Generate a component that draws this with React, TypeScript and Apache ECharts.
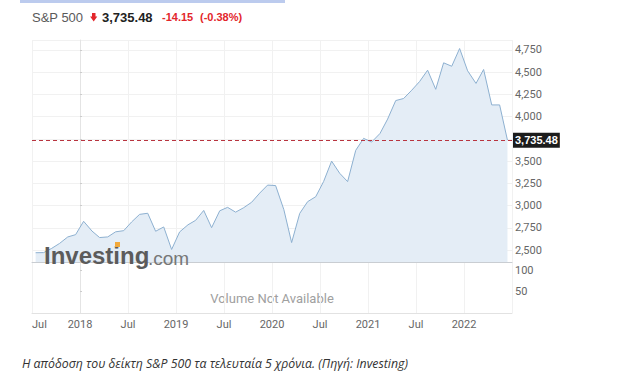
import React, { useEffect, useRef } from "react";
import * as echarts from "echarts";

// Monthly closes of the S&P 500 (last point: 14 June 2022)
const dates = [
  "2017-07-15", "2017-08-15", "2017-09-15", "2017-10-15", "2017-11-15", "2017-12-15",
  "2018-01-15", "2018-02-15", "2018-03-15", "2018-04-15", "2018-05-15", "2018-06-15",
  "2018-07-15", "2018-08-15", "2018-09-15", "2018-10-15", "2018-11-15", "2018-12-15",
  "2019-01-15", "2019-02-15", "2019-03-15", "2019-04-15", "2019-05-15", "2019-06-15",
  "2019-07-15", "2019-08-15", "2019-09-15", "2019-10-15", "2019-11-15", "2019-12-15",
  "2020-01-15", "2020-02-15", "2020-03-15", "2020-04-15", "2020-05-15", "2020-06-15",
  "2020-07-15", "2020-08-15", "2020-09-15", "2020-10-15", "2020-11-15", "2020-12-15",
  "2021-01-15", "2021-02-15", "2021-03-15", "2021-04-15", "2021-05-15", "2021-06-15",
  "2021-07-15", "2021-08-15", "2021-09-15", "2021-10-15", "2021-11-15", "2021-12-15",
  "2022-01-15", "2022-02-15", "2022-03-15", "2022-04-15", "2022-05-15", "2022-06-14",
];
const closes = [
  2470.3, 2471.7, 2519.4, 2575.3, 2647.6, 2673.6,
  2823.8, 2713.8, 2640.9, 2648.1, 2705.3, 2718.4,
  2816.3, 2901.5, 2914.0, 2711.7, 2760.2, 2506.9,
  2704.1, 2784.5, 2834.4, 2945.8, 2752.1, 2941.8,
  2980.4, 2926.5, 2976.7, 3037.6, 3141.0, 3230.8,
  3225.5, 2954.2, 2584.6, 2912.4, 3044.3, 3100.3,
  3271.1, 3500.3, 3363.0, 3270.0, 3621.6, 3756.1,
  3714.2, 3811.2, 3972.9, 4181.2, 4204.1, 4297.5,
  4395.3, 4522.7, 4307.5, 4605.4, 4567.0, 4766.2,
  4515.6, 4373.9, 4530.4, 4131.9, 4132.2, 3735.48,
];
const lastPrice = 3735.48;
const lastPriceLabel = "3,735.48";
const change = "-14.15";
const changePct = "(-0.38%)";
const baseYear = 2018;
const hiddenTick = 3750; // covered by the last-price badge
const caption = "Η απόδοση του δείκτη S&P 500 τα τελευταία 5 χρόνια. (Πηγή: Investing)";

// months since Jan 2018 (fractional)
function toMonth(d: string): number {
  const [y, m, day] = d.split("-").map(Number);
  const dim = new Date(y, m, 0).getDate();
  return (y - baseYear) * 12 + (m - 1) + (day - 1) / dim;
}

const seriesData = dates.map((d, i) => [toMonth(d), closes[i]]);

function fmtNum(v: number): string {
  if (Math.abs(v - hiddenTick) < 1e-6) return "";
  return Math.round(v).toLocaleString("en-US");
}

export default function App() {
  const ref = useRef<HTMLDivElement>(null);
  useEffect(() => {
    if (!ref.current) return;
    const chart = echarts.init(ref.current, null, { renderer: "svg" });
    const axisFont = { color: "#666", fontSize: 11, fontFamily: "Roboto" };
    chart.setOption({
      animation: false,
      backgroundColor: "#fff",
      grid: [
        { left: 32, right: 113, top: 40, height: 222 },
        { left: 32, right: 113, top: 262, height: 51 },
      ],
      xAxis: [
        {
          type: "value", gridIndex: 0, min: -6, max: 54, interval: 6,
          axisLabel: { show: false }, axisTick: { show: false },
          axisLine: { show: true, lineStyle: { color: "#c9cdd2", width: 1 } },
          splitLine: { show: true, lineStyle: { color: "#f1f1f1" } },
        },
        {
          type: "value", gridIndex: 1, min: -6, max: 54, interval: 6,
          axisLine: { show: true, lineStyle: { color: "#e2e2e2" } },
          axisTick: { show: false },
          splitLine: { show: true, lineStyle: { color: "#f1f1f1" } },
          axisLabel: {
            ...axisFont, margin: 6, showMinLabel: true, showMaxLabel: false,
            alignMinLabel: "left",
            formatter: (v: number) => {
              const m = Math.round(v);
              if (((m % 12) + 12) % 12 === 0) return String(baseYear + m / 12);
              return "Jul";
            },
          },
        },
      ],
      yAxis: [
        {
          type: "value", gridIndex: 0, position: "right", min: 2366, max: 4862,
          minInterval: 250, maxInterval: 250, splitNumber: 10,
          axisLine: { show: true, lineStyle: { color: "#e4e4e4" } },
          axisTick: { show: true, length: 2, lineStyle: { color: "#ccc" } },
          splitLine: { show: true, lineStyle: { color: "#f1f1f1" } },
          axisLabel: { ...axisFont, margin: 3, showMinLabel: false, showMaxLabel: false, formatter: fmtNum },
        },
        {
          type: "value", gridIndex: 1, position: "right", min: 0, max: 119, interval: 50,
          axisLine: { show: true, lineStyle: { color: "#e4e4e4" } },
          axisTick: { show: true, length: 2, lineStyle: { color: "#ccc" } },
          splitLine: { show: false },
          axisLabel: { ...axisFont, margin: 3, showMinLabel: false, showMaxLabel: false },
        },
      ],
      series: [
        {
          type: "line", xAxisIndex: 0, yAxisIndex: 0, data: seriesData,
          symbol: "none", lineStyle: { color: "#8db0d0", width: 1 },
          areaStyle: { color: "#e4edf6", opacity: 1 },
          markLine: {
            silent: true, symbol: "none",
            lineStyle: { color: "#b8343f", type: [4, 3], width: 1 },
            label: {
              show: true, position: "end", distance: 1,
              formatter: lastPriceLabel,
              color: "#fff", backgroundColor: "#1c1c1c", fontWeight: "bold",
              fontSize: 11, fontFamily: "Liberation Sans", padding: [2, 2, 2, 2],
            },
            data: [{ yAxis: lastPrice }],
          },
        },
        { type: "line", xAxisIndex: 1, yAxisIndex: 1, data: [] },
      ],
      graphic: [
        { type: "rect", shape: { x: 20, y: 0, width: 265, height: 3 }, style: { fill: "#bccbee" } },
        { type: "text", x: 32, y: 17, style: { text: "S&P 500", font: "13px 'Liberation Sans'", fill: "#5a5a5a", verticalAlign: "middle" } },
        {
          type: "polygon",
          shape: { points: [[92, 13], [95.5, 13], [95.5, 16.5], [97.3, 16.5], [93.7, 21.5], [90.1, 16.5], [92, 16.5]] },
          style: { fill: "#e3262b" },
        },
        { type: "text", x: 102, y: 17, style: { text: lastPriceLabel, font: "bold 13px 'Liberation Sans'", fill: "#222", verticalAlign: "middle" } },
        { type: "text", x: 162, y: 17, style: { text: change, font: "bold 11px 'Liberation Sans'", fill: "#e3262b", verticalAlign: "middle" } },
        { type: "text", x: 200, y: 17, style: { text: changePct, font: "bold 11px 'Liberation Sans'", fill: "#e3262b", verticalAlign: "middle" } },
        { type: "text", x: 44, y: 255, z: 100, style: { text: "Investing", font: "bold 24px 'Liberation Sans'", fill: "#5b5b5b", verticalAlign: "middle" } },
        { type: "rect", z: 101, shape: { x: 115, y: 242, width: 5, height: 5 }, style: { fill: "#f2a93b" } },
        { type: "text", x: 148, y: 258, z: 100, style: { text: ".com", font: "19px 'Liberation Sans'", fill: "#777", verticalAlign: "middle" } },
        { type: "text", x: 272, y: 298, style: { text: "Volume Not Available", font: "13px Roboto", fill: "#a0a0a0", align: "center", verticalAlign: "middle" } },
        { type: "text", x: 22, y: 363, style: { text: caption, font: "italic 12.3px 'Open Sans'", fill: "#333", verticalAlign: "middle" } },
      ],
    });
    return () => chart.dispose();
  }, []);
  return <div ref={ref} style={{ position: "absolute", left: 0, top: 0, width: 625, height: 380 }} />;
}
